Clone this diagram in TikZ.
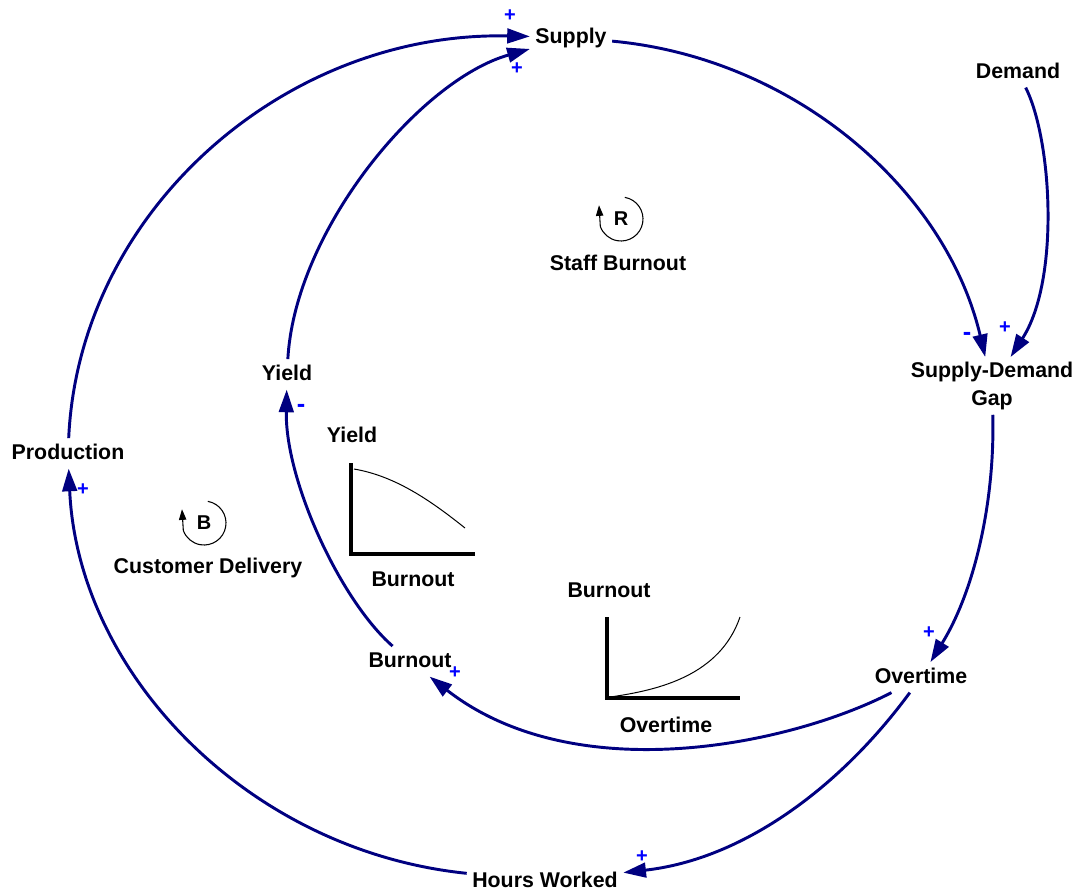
\documentclass[tikz,border=0pt]{standalone}
\usepackage{fontspec}
\setmainfont{Liberation Sans}
\usetikzlibrary{arrows.meta}
\definecolor{linkblue}{RGB}{0,0,128}
\definecolor{signblue}{RGB}{0,0,255}
\begin{document}
\begin{tikzpicture}[x=0.75pt,y=-0.75pt,
  var/.style={font=\fontsize{16}{21}\selectfont\bfseries, inner sep=4pt,
    text height=11.5pt, text depth=3pt, anchor=base},
  gapvar/.style={font=\fontsize{16}{21}\selectfont\bfseries, inner sep=3.5pt,
    align=center, anchor=north},
  link/.style={color=linkblue, line width=2.2pt,
    -{Triangle[length=17pt,width=11pt]}},
  sign/.style={font=\fontsize{15}{15}\selectfont\bfseries, text=signblue, inner sep=0pt},
  minus/.style={font=\fontsize{19}{19}\selectfont\bfseries, text=signblue, inner sep=0pt},
  loopletter/.style={font=\fontsize{15}{15}\selectfont\bfseries, inner sep=0pt},
  loopline/.style={line width=0.8pt, -{Triangle[length=8pt,width=5.5pt]}},
  axisline/.style={line width=3pt},
  curveline/.style={line width=0.75pt}
]
\useasboundingbox (0,0) rectangle (1080,890);

% variables
\node[var] (supply) at (571,43) {Supply};
\node[var] (demand) at (1018,78) {Demand};
\node[gapvar] (gap) at (992,357) {Supply-Demand\\Gap};
\node[var] (overtime) at (921,683) {Overtime};
\node[var] (hours) at (545,887) {Hours Worked};
\node[var] (production) at (68,459) {Production};
\node[var] (yield) at (287,380) {Yield};
\node[var] (burnout) at (410,667) {Burnout};

% loop names
\node[var] (staffburnout) at (618,270) {Staff Burnout};
\node[var] (custdelivery) at (208,573) {Customer Delivery};

% loop markers
\node[loopletter] (loopR) at (621,219) {R};
\draw[loopline] ([shift={(80:16.5pt)}]loopR.center)
  arc[start angle=80, end angle=-160, radius=16.5pt] -- ++(-1pt,16pt);
\node[loopletter] (loopB) at (204,523) {B};
\draw[loopline] ([shift={(80:16.5pt)}]loopB.center)
  arc[start angle=80, end angle=-160, radius=16.5pt] -- ++(-1pt,16pt);

% causal links
\draw[link] (supply) .. controls (795,58) and (946,190) .. (gap);
\draw[link] (demand) .. controls (1052,140) and (1060,280) .. (gap);
\draw[link] (gap) .. controls (995,500) and (975,590) .. (overtime);
\draw[link] (overtime) .. controls (790,745) and (575,790) .. (burnout);
\draw[link] (overtime) .. controls (842,785) and (745,859) .. (hours);
\draw[link] (hours) .. controls (249,851) and (78,674) .. (production);
\draw[link] (production) .. controls (79,211) and (285,31) .. (supply);
\draw[link] (burnout) .. controls (340,600) and (285,480) .. (yield);
\draw[link] (yield) .. controls (295,230) and (420,80) .. (supply);

% link polarities
\node[sign] (pol1) at (510,16) {+};
\node[sign] (pol2) at (517,69) {+};
\node[minus] (pol3) at (967,336) {-};
\node[sign] (pol4) at (1005,328) {+};
\node[sign] (pol5) at (929,633) {+};
\node[sign] (pol6) at (455,673) {+};
\node[sign] (pol7) at (642,857) {+};
\node[sign] (pol8) at (83,490) {+};
\node[minus] (pol9) at (301,408) {-};

% lookup graph: yield against burnout
\node[var] (g1y) at (352,442) {Yield};
\node[var] (g1x) at (413,586) {Burnout};
\draw[axisline] (351,463) -- (351,554) -- (475,554);
\draw[curveline] (354,469) .. controls (395,476) and (430,500) .. (465,528);

% lookup graph: burnout against overtime
\node[var] (g2y) at (609,597) {Burnout};
\node[var] (g2x) at (666,732) {Overtime};
\draw[axisline] (607,617) -- (607,698) -- (740,698);
\draw[curveline] (610,697) .. controls (660,690) and (720,675) .. (740,617);
\end{tikzpicture}
\end{document}
